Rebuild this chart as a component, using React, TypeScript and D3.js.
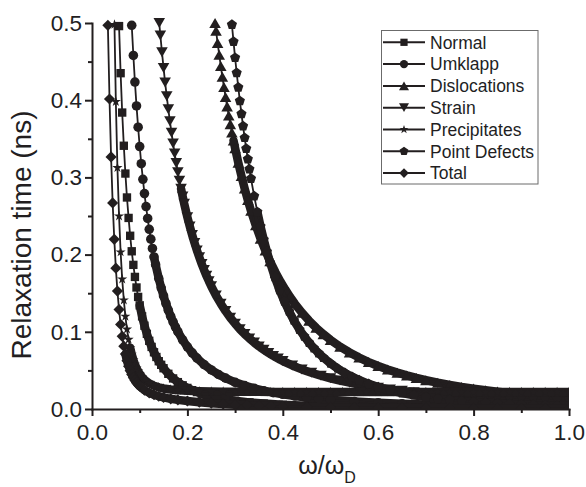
import React, { useEffect, useRef } from 'react';
import * as d3 from 'd3';

type Pt = [number, number];

// omega/omega_D , relaxation time (ns)
const normal: Pt[] = [
  [0.0567, 0.496], [0.06, 0.435], [0.0633, 0.384], [0.0667, 0.341], [0.07, 0.305],
  [0.0733, 0.274], [0.0767, 0.2475], [0.08, 0.2244], [0.0833, 0.2043], [0.0867, 0.1867],
  [0.09, 0.1711], [0.0933, 0.1574], [0.0967, 0.1452], [0.1, 0.1343], [0.105, 0.12],
  [0.11, 0.1079], [0.115, 0.0974], [0.12, 0.0883], [0.125, 0.0804], [0.13, 0.0735],
  [0.135, 0.0674], [0.14, 0.0619], [0.145, 0.0572], [0.15, 0.0528], [0.16, 0.0456],
  [0.17, 0.0396], [0.18, 0.0348], [0.19, 0.0307], [0.2, 0.0273], [0.21, 0.0244],
  [0.22, 0.0219], [0.23, 0.0198], [0.24, 0.0179], [0.26, 0.0149], [0.28, 0.0126],
  [0.3, 0.0107], [0.33, 0.0086], [0.36, 0.0071], [0.4, 0.0055], [0.45, 0.0042],
  [0.5, 0.0033], [0.55, 0.0027], [0.6, 0.0022], [0.65, 0.0019], [0.7, 0.0016],
  [0.75, 0.0014], [0.8, 0.0012], [0.85, 0.0011], [0.9, 0.001], [0.95, 0.0009], [1.0, 0.0008],
];

const umklapp: Pt[] = [
  [0.0833, 0.497], [0.0867, 0.458], [0.09, 0.4235], [0.0933, 0.3926], [0.0967, 0.365],
  [0.1, 0.34], [0.1033, 0.3177], [0.1067, 0.2975], [0.11, 0.279], [0.1133, 0.2622],
  [0.1167, 0.2468], [0.12, 0.2328], [0.1233, 0.22], [0.1267, 0.208], [0.13, 0.197],
  [0.1333, 0.187], [0.14, 0.169], [0.145, 0.157], [0.15, 0.1464], [0.155, 0.1367],
  [0.16, 0.128], [0.165, 0.12], [0.17, 0.1128], [0.175, 0.1062], [0.18, 0.1002],
  [0.19, 0.0895], [0.2, 0.0805], [0.21, 0.0727], [0.22, 0.066], [0.235, 0.0576],
  [0.25, 0.0506], [0.265, 0.0448], [0.28, 0.04], [0.3, 0.0346], [0.32, 0.0303],
  [0.34, 0.0267], [0.36, 0.0237], [0.38, 0.0212], [0.4, 0.019], [0.425, 0.0168],
  [0.45, 0.0149], [0.475, 0.0133], [0.5, 0.012], [0.55, 0.0098], [0.6, 0.0082],
  [0.65, 0.0069], [0.7, 0.0059], [0.75, 0.0051], [0.8, 0.0045], [0.85, 0.004],
  [0.9, 0.0035], [0.95, 0.0032], [1.0, 0.0028],
];

const dislocations: Pt[] = [
  [0.258, 0.5], [0.26, 0.49], [0.2633, 0.4742], [0.2667, 0.4589], [0.27, 0.4442],
  [0.2733, 0.4303], [0.2767, 0.417], [0.28, 0.4042], [0.2833, 0.392], [0.2867, 0.3803],
  [0.29, 0.369], [0.2933, 0.3582], [0.2967, 0.3478], [0.3, 0.3379], [0.3067, 0.319],
  [0.3133, 0.3017], [0.32, 0.2856], [0.3267, 0.2707], [0.3333, 0.2568], [0.3433, 0.2379],
  [0.3533, 0.2207], [0.3633, 0.2053], [0.3733, 0.1913], [0.385, 0.1766], [0.395, 0.1652],
  [0.405, 0.1549], [0.415, 0.1453], [0.425, 0.1366], [0.44, 0.1248], [0.455, 0.1144],
  [0.47, 0.1051], [0.485, 0.0969], [0.5, 0.0895], [0.52, 0.0808], [0.54, 0.0733],
  [0.56, 0.0666], [0.58, 0.0608], [0.6, 0.0557], [0.62, 0.0512], [0.64, 0.0471],
  [0.66, 0.0435], [0.68, 0.0402], [0.7, 0.0373], [0.725, 0.034], [0.75, 0.0312],
  [0.775, 0.0286], [0.8, 0.0264], [0.825, 0.0243], [0.85, 0.0225], [0.875, 0.0209],
  [0.9, 0.0194], [0.925, 0.0181], [0.95, 0.0169], [0.975, 0.0158], [1.0, 0.0148],
];

const strain: Pt[] = [
  [0.141, 0.5], [0.1433, 0.4839], [0.1467, 0.4621], [0.15, 0.4418], [0.1533, 0.4228],
  [0.1567, 0.405], [0.16, 0.3883], [0.1633, 0.3726], [0.1667, 0.3579], [0.17, 0.344],
  [0.1733, 0.3309], [0.1767, 0.3185], [0.18, 0.3068], [0.1833, 0.2958], [0.1867, 0.2853],
  [0.19, 0.2754], [0.1933, 0.2659], [0.2, 0.2485], [0.205, 0.2365], [0.21, 0.2254],
  [0.215, 0.215], [0.22, 0.2054], [0.225, 0.1964], [0.23, 0.1879], [0.235, 0.18],
  [0.24, 0.1726], [0.245, 0.1656], [0.25, 0.159], [0.26, 0.147], [0.27, 0.1364],
  [0.28, 0.1268], [0.29, 0.1182], [0.3, 0.1105], [0.31, 0.1034], [0.32, 0.0971],
  [0.33, 0.0913], [0.34, 0.086], [0.35, 0.0811], [0.36, 0.0767], [0.37, 0.0726],
  [0.38, 0.0688], [0.39, 0.0654], [0.4, 0.0621], [0.42, 0.0564], [0.44, 0.0513],
  [0.46, 0.047], [0.48, 0.0431], [0.5, 0.0398], [0.52, 0.0368], [0.54, 0.0341],
  [0.56, 0.0317], [0.58, 0.0295], [0.6, 0.0276], [0.625, 0.0254], [0.65, 0.0235],
  [0.675, 0.0218], [0.7, 0.0203], [0.725, 0.0189], [0.75, 0.0177], [0.775, 0.0166],
  [0.8, 0.0155], [0.825, 0.0146], [0.85, 0.0138], [0.875, 0.013], [0.9, 0.0123],
  [0.925, 0.0116], [0.95, 0.011], [0.975, 0.0105], [1.0, 0.0099],
];

const precipitates: Pt[] = [
  [0.0471, 0.498], [0.05, 0.398], [0.0533, 0.3125], [0.0567, 0.2499], [0.06, 0.2033],
  [0.0633, 0.1681], [0.0667, 0.141], [0.07, 0.1199], [0.0733, 0.1033], [0.0767, 0.09],
  [0.08, 0.0794], [0.0833, 0.0707], [0.0867, 0.0637], [0.09, 0.0578], [0.0933, 0.053],
  [0.0967, 0.0489], [0.1, 0.0455], [0.105, 0.0413], [0.11, 0.0381], [0.115, 0.0354],
  [0.12, 0.0333], [0.13, 0.0302], [0.14, 0.0281], [0.15, 0.0266], [0.165, 0.0252],
  [0.18, 0.0242], [0.2, 0.0235], [0.225, 0.0229], [0.25, 0.0226], [0.275, 0.0224],
  [0.3, 0.0223], [0.325, 0.0222], [0.35, 0.0222], [0.375, 0.022], [0.4, 0.022],
  [0.425, 0.022], [0.45, 0.022], [0.475, 0.022], [0.5, 0.022], [0.525, 0.022],
  [0.55, 0.022], [0.575, 0.022], [0.6, 0.022], [0.625, 0.022], [0.65, 0.022],
  [0.675, 0.022], [0.7, 0.022], [0.725, 0.022], [0.75, 0.022], [0.775, 0.022],
  [0.8, 0.022], [0.825, 0.022], [0.85, 0.022], [0.875, 0.022], [0.9, 0.022],
  [0.925, 0.022], [0.95, 0.022], [0.975, 0.022], [1.0, 0.022],
];

const pointDefects: Pt[] = [
  [0.2933, 0.4978], [0.2967, 0.4758], [0.3, 0.455], [0.3033, 0.4354], [0.3067, 0.4167],
  [0.31, 0.399], [0.3133, 0.3823], [0.3167, 0.3664], [0.32, 0.3513], [0.3233, 0.3372],
  [0.3267, 0.3236], [0.33, 0.3108], [0.3333, 0.2985], [0.34, 0.2758], [0.3467, 0.2552],
  [0.3533, 0.2364], [0.36, 0.2194], [0.3667, 0.2039], [0.3733, 0.1897], [0.3833, 0.1707],
  [0.3933, 0.154], [0.4033, 0.1393], [0.4133, 0.1263], [0.4233, 0.1147], [0.435, 0.1029],
  [0.445, 0.094], [0.455, 0.086], [0.465, 0.0788], [0.475, 0.0724], [0.485, 0.0666],
  [0.5, 0.059], [0.515, 0.0524], [0.53, 0.0467], [0.545, 0.0418], [0.56, 0.0375],
  [0.58, 0.0326], [0.6, 0.0284], [0.625, 0.0242], [0.65, 0.0206], [0.675, 0.0178],
  [0.7, 0.0154], [0.725, 0.0133], [0.75, 0.0117], [0.775, 0.0102], [0.8, 0.009],
  [0.825, 0.008], [0.85, 0.0071], [0.875, 0.0063], [0.9, 0.0056], [0.925, 0.005],
  [0.95, 0.0045], [0.975, 0.0041], [1.0, 0.0037],
];

const total: Pt[] = [
  [0.0333, 0.497], [0.0367, 0.4016], [0.04, 0.3265], [0.0433, 0.267], [0.0467, 0.2198],
  [0.05, 0.1824], [0.0533, 0.1527], [0.0567, 0.1288], [0.06, 0.1096], [0.0633, 0.0941],
  [0.0667, 0.0814], [0.07, 0.0711], [0.0733, 0.0626], [0.0767, 0.0555], [0.08, 0.0497],
  [0.0833, 0.0448], [0.0867, 0.0406], [0.09, 0.0371], [0.0933, 0.0341], [0.0967, 0.0316],
  [0.1, 0.0294], [0.11, 0.0244], [0.12, 0.0209], [0.13, 0.0184], [0.14, 0.0165],
  [0.15, 0.015], [0.165, 0.0132], [0.18, 0.0118], [0.2, 0.0103], [0.225, 0.0087],
  [0.25, 0.0074], [0.275, 0.0064], [0.3, 0.0055], [0.325, 0.0048], [0.35, 0.0042],
  [0.375, 0.0037], [0.4, 0.0032], [0.45, 0.0026], [0.5, 0.0021], [0.55, 0.0017],
  [0.6, 0.0014], [0.65, 0.0012], [0.7, 0.0011], [0.75, 0.0009], [0.8, 0.0008],
  [0.85, 0.0008], [0.9, 0.0007], [0.95, 0.0006], [1.0, 0.0006],
];

const seriesNames = ['Normal', 'Umklapp', 'Dislocations', 'Strain', 'Precipitates', 'Point Defects', 'Total'];
const seriesData = [normal, umklapp, dislocations, strain, precipitates, pointDefects, total];

const xMajor = [0, 0.2, 0.4, 0.6, 0.8, 1.0];
const xMinor = [0.1, 0.3, 0.5, 0.7, 0.9];
const yMajor = [0, 0.1, 0.2, 0.3, 0.4, 0.5];
const yMinor = [0.05, 0.15, 0.25, 0.35, 0.45];

const W = 586;
const H = 487;
const plot = { left: 92, right: 569, top: 23, bottom: 409 };
const FONT = '"Liberation Sans", Arial, Helvetica, sans-serif';
const INK = '#221e1f';
// the original curves were sampled every 1/300 of omega_D
const GRID_STEP = 1 / 300;

// custom marker shapes (d3 symbol types)
const triUp = {
  draw(ctx: any, size: number) {
    const s = Math.sqrt((size * 4) / Math.sqrt(3));
    const h = (s * Math.sqrt(3)) / 2;
    ctx.moveTo(0, -h / 2);
    ctx.lineTo(s / 2, h / 2);
    ctx.lineTo(-s / 2, h / 2);
    ctx.closePath();
  },
};
const triDown = {
  draw(ctx: any, size: number) {
    const s = Math.sqrt((size * 4) / Math.sqrt(3));
    const h = (s * Math.sqrt(3)) / 2;
    ctx.moveTo(0, h / 2);
    ctx.lineTo(s / 2, -h / 2);
    ctx.lineTo(-s / 2, -h / 2);
    ctx.closePath();
  },
};
const pentagon = {
  draw(ctx: any, size: number) {
    const r = Math.sqrt(size / 2.378);
    for (let i = 0; i < 5; i++) {
      const a = -Math.PI / 2 + (i * 2 * Math.PI) / 5;
      if (i === 0) ctx.moveTo(r * Math.cos(a), r * Math.sin(a));
      else ctx.lineTo(r * Math.cos(a), r * Math.sin(a));
    }
    ctx.closePath();
  },
};
const diamond = {
  draw(ctx: any, size: number) {
    const r = Math.sqrt(size / 2);
    ctx.moveTo(0, -r);
    ctx.lineTo(r, 0);
    ctx.lineTo(0, r);
    ctx.lineTo(-r, 0);
    ctx.closePath();
  },
};

const markers = [
  { type: d3.symbolSquare, size: 70 },
  { type: d3.symbolCircle, size: 72 },
  { type: triUp, size: 58 },
  { type: triDown, size: 58 },
  { type: d3.symbolStar, size: 32 },
  { type: pentagon, size: 68 },
  { type: diamond, size: 62 },
];

export default function App() {
  const xAxisRef = useRef<SVGGElement>(null);
  const yAxisRef = useRef<SVGGElement>(null);

  const x = d3.scaleLinear().domain([0, 1]).range([plot.left, plot.right]);
  const y = d3.scaleLinear().domain([0, 0.5]).range([plot.bottom, plot.top]);
  const line = d3.line<Pt>().x((d) => x(d[0])).y((d) => y(d[1]));

  // where markers of the original sampling overlap they merge into a solid band
  const crowdedRuns = (data: Pt[]) => {
    const runs: Pt[][] = [];
    let cur: Pt[] = [];
    for (let j = 1; j < data.length; j++) {
      const a = data[j - 1];
      const b = data[j];
      const dist = Math.hypot(x(b[0]) - x(a[0]), y(b[1]) - y(a[1]));
      const perStep = (dist * GRID_STEP) / (b[0] - a[0]);
      if (perStep < 8) {
        if (!cur.length) cur.push(a);
        cur.push(b);
      } else if (cur.length) {
        runs.push(cur);
        cur = [];
      }
    }
    if (cur.length) runs.push(cur);
    return runs.map((r) => line(r)).join('');
  };

  useEffect(() => {
    const fmt = d3.format('.1f');

    const gx = d3.select(xAxisRef.current);
    gx.selectAll('*').remove();
    gx.append('g').call(
      d3.axisBottom(x).tickValues(xMajor).tickFormat(fmt as any).tickSize(7).tickSizeOuter(0).tickPadding(8)
    );
    gx.append('g')
      .call(d3.axisBottom(x).tickValues(xMinor).tickFormat(() => '').tickSize(4).tickSizeOuter(0))
      .select('.domain')
      .remove();

    const gy = d3.select(yAxisRef.current);
    gy.selectAll('*').remove();
    gy.append('g').call(
      d3.axisLeft(y).tickValues(yMajor).tickFormat(fmt as any).tickSize(7).tickSizeOuter(0).tickPadding(3)
    );
    gy.append('g')
      .call(d3.axisLeft(y).tickValues(yMinor).tickFormat(() => '').tickSize(4).tickSizeOuter(0))
      .select('.domain')
      .remove();

    [gx, gy].forEach((g) => {
      g.selectAll('path.domain')
        .attr('stroke', INK)
        .attr('stroke-width', 2)
        .attr('stroke-linecap', 'square');
      g.selectAll('.tick line').attr('stroke', INK).attr('stroke-width', 2);
      g.selectAll('.tick text')
        .attr('font-size', 22.5)
        .attr('font-family', FONT)
        .attr('fill', INK);
    });
  }, []);

  return (
    <svg
      width={W}
      height={H}
      style={{ position: 'absolute', left: 0, top: 0, background: '#fff' }}
    >
      <defs>
        <clipPath id="plotClip">
          <rect x={0} y={0} width={plot.right} height={plot.bottom} />
        </clipPath>
      </defs>

      <g clipPath="url(#plotClip)">
        {seriesData.map((data, i) => {
          const sym = d3.symbol().type(markers[i].type as any).size(markers[i].size)() || '';
          return (
            <g key={seriesNames[i]}>
              <path
                d={crowdedRuns(data)}
                fill="none"
                stroke={INK}
                strokeWidth={8.5}
                strokeLinecap="round"
                strokeLinejoin="round"
              />
              <path d={line(data) || ''} fill="none" stroke={INK} strokeWidth={1.8} />
              {data.map((p, j) => (
                <path key={j} d={sym} transform={`translate(${x(p[0])},${y(p[1])})`} fill={INK} />
              ))}
            </g>
          );
        })}
      </g>

      <g ref={xAxisRef} transform={`translate(0,${plot.bottom})`} />
      <g ref={yAxisRef} transform={`translate(${plot.left},0)`} />

      {/* legend */}
      <g>
        <rect x={381.5} y={30.5} width={156.5} height={153.5} fill="#fff" stroke="#6b6b6b" strokeWidth={1} />
        {seriesNames.map((name, i) => {
          const cy = 42.3 + i * 21.8;
          const sym = d3.symbol().type(markers[i].type as any).size(markers[i].size * 0.75)() || '';
          return (
            <g key={name}>
              <line x1={383} x2={425} y1={cy} y2={cy} stroke={INK} strokeWidth={2} />
              <path d={sym} transform={`translate(404,${cy})`} fill={INK} />
              <text x={430} y={cy + 6.3} fontSize={17.5} fontFamily={FONT} fill={INK}>
                {name}
              </text>
            </g>
          );
        })}
      </g>

      {/* axis titles */}
      <text
        transform="translate(31,235) rotate(-90)"
        textAnchor="middle"
        fontSize={28}
        fontFamily={FONT}
        fill={INK}
      >
        Relaxation time (ns)
      </text>
      <text x={327} y={474} textAnchor="middle" fontSize={25} fontFamily={FONT} fill={INK}>
        ω/ω
        <tspan dy={9} fontSize={16}>
          D
        </tspan>
      </text>
    </svg>
  );
}
